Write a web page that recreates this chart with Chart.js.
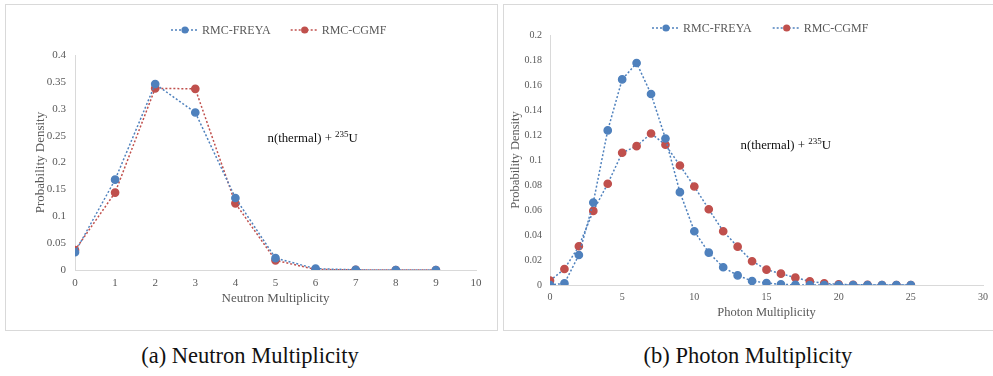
<!DOCTYPE html>
<html>
<head>
<meta charset="utf-8">
<script src="https://cdn.jsdelivr.net/npm/chart.js@4.4.1/dist/chart.umd.min.js"></script>
<style>
  html, body { margin: 0; padding: 0; background: #fff; }
  body { width: 993px; height: 376px; position: relative; overflow: hidden; }
  .panel { position: absolute; border: 1px solid #d9d9d9; box-sizing: border-box; }
  .panel canvas { display: block; }
  .cap { position: absolute; top: 343px; font-family: 'Liberation Serif', 'Times New Roman', 'DejaVu Serif', serif;
         font-size: 22.5px; color: #111; text-align: center; width: 400px; }
</style>
</head>
<body>
<div class="panel" style="left:5px; top:4px; width:493px; height:327px;"><canvas id="neutron"></canvas></div>
<div class="panel" style="left:503px; top:4px; width:492px; height:327px;"><canvas id="photon"></canvas></div>
<div class="cap" style="left:50px;">(a) Neutron Multiplicity</div>
<div class="cap" style="left:548px;">(b) Photon Multiplicity</div>
<script>
// values
const neutronN = [0, 1, 2, 3, 4, 5, 6, 7, 8, 9];
const neutronFreya = [0.033, 0.168, 0.346, 0.293, 0.134, 0.022, 0.0025, 0.0003, 0, 0];
const neutronCgmf = [0.037, 0.144, 0.338, 0.337, 0.124, 0.018, 0.001, 0.0002, 0, 0];

const photonN = [0, 1, 2, 3, 4, 5, 6, 7, 8, 9, 10, 11, 12, 13, 14, 15, 16, 17, 18, 19, 20, 21, 22, 23, 24, 25];
const photonFreya = [0, 0.0013, 0.024, 0.066, 0.1237, 0.1645, 0.1776, 0.1528, 0.1172, 0.0743, 0.043, 0.0259,
  0.0142, 0.0077, 0.0032, 0.0016, 0.0005, 0.0001, 0, 0, 0, 0, 0, 0, 0, 0];
const photonCgmf = [0.0035, 0.0128, 0.031, 0.0593, 0.081, 0.1058, 0.1111, 0.1212, 0.1122, 0.0956, 0.0788, 0.0606,
  0.043, 0.0307, 0.019, 0.0123, 0.0091, 0.0059, 0.0029, 0.0013, 0.0005, 0.0002, 0.0001, 0, 0, 0];

const BLUE = '#4f81bd';
const RED = '#c0504d';
const SERIF = "'Liberation Serif', 'Times New Roman', serif";
const INK = '#595959';
const AXIS = '#d9d9d9';

function pts(xs, ys) { return xs.map((x, i) => ({ x, y: ys[i] })); }

// legend: dotted line + marker + label, drawn at a fixed canvas position
const legendPlugin = {
  id: 'dotLegend',
  afterDraw(chart, args, opts) {
    const ctx = chart.ctx;
    ctx.save();
    ctx.font = `${opts.size}px ${SERIF}`;
    ctx.textBaseline = 'middle';
    let x = opts.x;
    chart.data.datasets.forEach(ds => {
      ctx.strokeStyle = ds.borderColor;
      ctx.lineWidth = 1.5;
      ctx.setLineDash([2, 2]);
      ctx.beginPath(); ctx.moveTo(x, opts.y); ctx.lineTo(x + 27, opts.y); ctx.stroke();
      ctx.setLineDash([]);
      ctx.fillStyle = ds.pointBackgroundColor;
      ctx.beginPath(); ctx.arc(x + 14, opts.y, 3.6, 0, Math.PI * 2); ctx.fill();
      ctx.fillStyle = INK;
      ctx.fillText(ds.label, x + 31, opts.y + 1);
      x += 31 + ctx.measureText(ds.label).width + opts.gap;
    });
    ctx.restore();
  }
};

// "n(thermal) + 235U" note anchored in data coordinates
const notePlugin = {
  id: 'note',
  afterDraw(chart, args, opts) {
    const ctx = chart.ctx;
    const px = chart.scales.x.getPixelForValue(opts.x);
    const py = chart.scales.y.getPixelForValue(opts.y);
    ctx.save();
    ctx.fillStyle = '#111';
    ctx.textBaseline = 'alphabetic';
    ctx.font = `${opts.size}px ${SERIF}`;
    const a = 'n(thermal) + ';
    ctx.fillText(a, px, py);
    let x = px + ctx.measureText(a).width;
    ctx.font = `${Math.round(opts.size * 0.68)}px ${SERIF}`;
    ctx.fillText('235', x, py - opts.size * 0.38);
    x += ctx.measureText('235').width;
    ctx.font = `${opts.size}px ${SERIF}`;
    ctx.fillText('U', x, py);
    ctx.restore();
  }
};

function makeChart(id, cfg) {
  const ds = (label, data, line, point) => ({
    label, data,
    borderColor: line,
    backgroundColor: point,
    pointBackgroundColor: point,
    pointBorderColor: point,
    borderWidth: 1.5,
    borderDash: [2, 2],
    pointRadius: 3.6,
    showLine: true,
    tension: 0
  });
  const tickFont = { family: SERIF, size: cfg.tickSize };
  const titleFont = { family: SERIF, size: cfg.titleSize };
  return new Chart(document.getElementById(id), {
    type: 'scatter',
    data: {
      datasets: [
        ds('RMC-FREYA', pts(cfg.xs, cfg.freya), BLUE, BLUE),
        ds('RMC-CGMF', pts(cfg.xs, cfg.cgmf), cfg.cgmfLine, RED)
      ]
    },
    options: {
      responsive: true,
      maintainAspectRatio: false,
      animation: false,
      layout: { padding: cfg.pad },
      plugins: {
        legend: { display: false },
        tooltip: { enabled: false },
        dotLegend: cfg.legend,
        note: cfg.note
      },
      scales: {
        x: {
          type: 'linear', min: 0, max: cfg.xMax,
          grid: { display: false, drawTicks: false },
          border: { color: AXIS, width: 1 },
          ticks: { stepSize: cfg.xStep, color: INK, font: tickFont, padding: cfg.xTickPad, maxRotation: 0 },
          title: { display: true, text: cfg.xTitle, color: INK, font: titleFont, padding: { top: cfg.xTitleTop } },
          afterFit(s) { s.height = cfg.xH; }
        },
        y: {
          min: 0, max: cfg.yMax,
          grid: { display: false, drawTicks: false },
          border: { color: AXIS, width: 1 },
          ticks: {
            stepSize: cfg.yStep, color: INK, font: tickFont, padding: cfg.yTickPad,
            callback: v => String(+v.toFixed(3))
          },
          title: { display: true, text: 'Probability Density', color: INK, font: titleFont, padding: cfg.yTitlePad },
          afterFit(s) { s.width = cfg.yW; }
        }
      }
    },
    plugins: [legendPlugin, notePlugin]
  });
}

makeChart('neutron', {
  xs: neutronN, freya: neutronFreya, cgmf: neutronCgmf, cgmfLine: RED,
  xMax: 10, xStep: 1, yMax: 0.4, yStep: 0.05,
  xTitle: 'Neutron Multiplicity',
  tickSize: 11, titleSize: 13,
  pad: { top: 50, right: 21, left: 0, bottom: 20 },
  yW: 69, xH: 40, xTickPad: 7, xTitleTop: 4, yTickPad: 9, yTitlePad: { top: 27, bottom: 0 },
  legend: { x: 165, y: 25, size: 12, gap: 20 },
  note: { x: 4.8, y: 0.238, size: 12.8 }
});

makeChart('photon', {
  xs: photonN, freya: photonFreya, cgmf: photonCgmf, cgmfLine: BLUE,
  xMax: 30, xStep: 5, yMax: 0.2, yStep: 0.02,
  xTitle: 'Photon Multiplicity',
  tickSize: 10, titleSize: 12.5,
  pad: { top: 30, right: 10, left: 0, bottom: 6 },
  yW: 46, xH: 39, xTickPad: 6, xTitleTop: 5, yTickPad: 8, yTitlePad: { top: 4, bottom: 0 },
  legend: { x: 148, y: 23, size: 12, gap: 21 },
  note: { x: 13.2, y: 0.109, size: 12.8 }
});
</script>
</body>
</html>
